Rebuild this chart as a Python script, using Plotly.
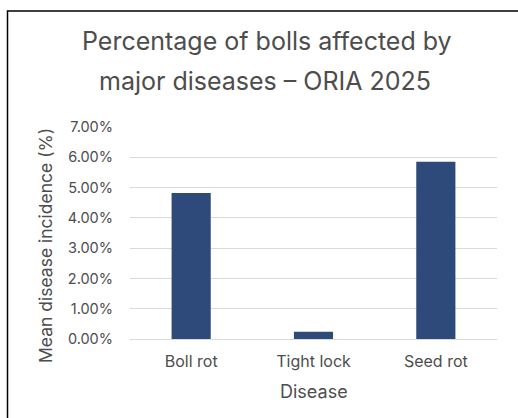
import plotly.graph_objects as go

diseases = ["Boll rot", "Tight lock", "Seed rot"]
incidence = [0.0482, 0.0024, 0.0585]
title_lines = ["Percentage of bolls affected by", "major diseases \u2013 ORIA 2025"]
y_title = "Mean disease incidence (%)"
x_title = "Disease"

W, H = 518, 418
L, R, T, B = 130, 21, 127, 79
pw, ph = W - L - R, H - T - B

def px(x):
    return (x - L) / pw

def py(y):
    return (H - B - y) / ph

FONT = "Inter"
GREY = "#4d4d4d"

fig = go.Figure(go.Bar(x=diseases, y=incidence, marker=dict(color="#2e4a7a", line=dict(width=0)), width=0.32))

fig.update_layout(
    width=W, height=H,
    margin=dict(l=L, r=R, t=T, b=B),
    paper_bgcolor="white", plot_bgcolor="white",
    showlegend=False,
    font=dict(family=FONT, color=GREY),
    xaxis=dict(tickfont=dict(size=16, color=GREY), showgrid=False, showline=False, ticks="",
               ticklabelstandoff=11),
    yaxis=dict(range=[0, 0.07], dtick=0.01, tickformat=".2%", tickfont=dict(size=14.5, color=GREY),
               gridcolor="#d9d9d9", gridwidth=1, zeroline=True, zerolinecolor="#d9d9d9", zerolinewidth=1,
               showline=False, ticklabelstandoff=16),
)

fig.add_annotation(text=title_lines[0], x=px(267), y=py(58), xref="paper", yref="paper",
                   xanchor="center", yanchor="bottom", showarrow=False, font=dict(size=25, color=GREY, family=FONT))
fig.add_annotation(text=title_lines[1], x=px(265), y=py(98), xref="paper", yref="paper",
                   xanchor="center", yanchor="bottom", showarrow=False, font=dict(size=25, color=GREY, family=FONT))
fig.add_annotation(text=y_title, x=px(45), y=py(246), xref="paper", yref="paper", textangle=-90,
                   xanchor="center", yanchor="middle", showarrow=False, font=dict(size=17.5, color=GREY, family=FONT))
fig.add_annotation(text=x_title, x=px(314), y=py(391), xref="paper", yref="paper",
                   xanchor="center", yanchor="middle", showarrow=False, font=dict(size=18, color=GREY, family=FONT))

fig.add_shape(type="rect", xref="paper", yref="paper", x0=px(7.5), y0=py(425), x1=px(525), y1=py(11),
              line=dict(color="black", width=1.5), fillcolor="rgba(0,0,0,0)")

fig.write_html("out.html")
